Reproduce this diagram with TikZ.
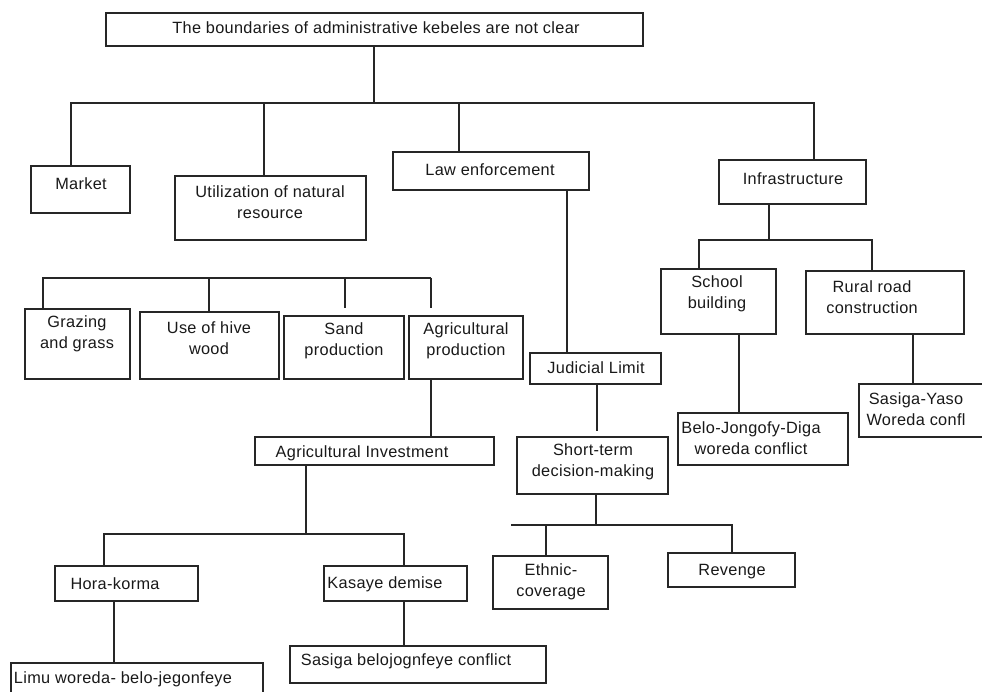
\documentclass[tikz,border=0pt]{standalone}
\usepackage{fontspec}
\setmainfont{Liberation Sans}[LetterSpace=2.0]
\tikzset{
  bx/.style={draw=black!85, line width=1.2pt, inner sep=0pt, fill=white},
  tx/.style={inner sep=0pt, align=center, text=black!90, font=\fontsize{16.3}{20.5}\selectfont},
  ln/.style={draw=black!85, line width=1.2pt}
}
\newcommand\mybox[5]{\node[bx,minimum width={(#4-#2)*1pt},minimum height={(#5-#3)*1pt}] (#1) at ({(#2+#4)/2},{(#3+#5)/2}) {};}
\begin{document}
\begin{tikzpicture}[x=1pt,y=-1pt]
\useasboundingbox (0,0) rectangle (982,692);
\fill[white] (0,0) rectangle (982,692);
\clip (0,0) rectangle (982,692);
% boxes
\mybox{top}{106}{13}{643}{46}
\mybox{market}{31}{166}{130}{213}
\mybox{util}{175}{176}{366}{240}
\mybox{law}{393}{152}{589}{190}
\mybox{infra}{719}{160}{866}{204}
\mybox{school}{661}{269}{776}{334}
\mybox{rural}{806}{271}{964}{334}
\mybox{belo}{678}{413}{848}{465}
\mybox{yaso}{859}{384}{995}{437}
\mybox{jud}{530}{353}{661}{384}
\mybox{short}{517}{437}{668}{494}
\mybox{ethnic}{493}{556}{608}{609}
\mybox{revenge}{668}{553}{795}{587}
\mybox{grazing}{25}{309}{130}{379}
\mybox{hive}{140}{312}{279}{379}
\mybox{sand}{284}{316}{404}{379}
\mybox{agri}{409}{316}{523}{379}
\mybox{inv}{255}{437}{494}{465}
\mybox{hora}{55}{566}{198}{601}
\mybox{kasaye}{324}{566}{467}{601}
\mybox{limu}{11}{663}{263}{712}
\mybox{sasbel}{290}{646}{546}{683}
% texts
\node[tx] (top-t) at (376,28) {The boundaries of administrative kebeles are not clear};
\node[tx] (market-t) at (81,184) {Market};
\node[tx] (util-t) at (270,202) {Utilization of natural\\resource};
\node[tx] (law-t) at (490,170) {Law enforcement};
\node[tx] (infra-t) at (793,179) {Infrastructure};
\node[tx] (school-t) at (717,294) {School\\building};
\node[tx] (rural-t) at (872,297) {Rural road\\construction};
\node[tx] (belo-t) at (751,438) {Belo-Jongofy-Diga\\woreda conflict};
\node[tx] (yaso-t) at (916,409) {Sasiga-Yaso\\Woreda confl};
\node[tx] (jud-t) at (596,368) {Judicial Limit};
\node[tx] (short-t) at (593,462) {Short-term\\decision-making};
\node[tx] (ethnic-t) at (551,582) {Ethnic-\\coverage};
\node[tx] (revenge-t) at (732,572) {Revenge};
\node[tx] (grazing-t) at (77,334) {Grazing\\and grass};
\node[tx] (hive-t) at (209,338) {Use of hive\\wood};
\node[tx] (sand-t) at (344,341) {Sand\\production};
\node[tx] (agri-t) at (466,341) {Agricultural\\production};
\node[tx] (inv-t) at (362,453) {Agricultural Investment};
\node[tx] (hora-t) at (115,584) {Hora-korma};
\node[tx] (kasaye-t) at (385,584) {Kasaye demise};
\node[tx] (limu-t) at (123,679) {Limu woreda- belo-jegonfeye};
\node[tx] (sasbel-t) at (406,661) {Sasiga belojognfeye conflict};
% junction coordinates
\coordinate (j1) at (374,103);
\coordinate (j2) at (769,240);
\coordinate (j3) at (596,525);
\coordinate (j4) at (306,534);
% connectors: top level
\draw[ln] (374,0 |- top.south) -- (j1);
\draw[ln] (71,0 |- market.north) -- (71,0 |- j1) -- (814,0 |- j1) -- (814,0 |- infra.north);
\draw[ln] (264,0 |- j1) -- (264,0 |- util.north);
\draw[ln] (459,0 |- j1) -- (459,0 |- law.north);
% law enforcement branch
\draw[ln] (567,0 |- law.south) -- (567,0 |- jud.north);
\draw[ln, shorten >=5pt] (597,0 |- jud.south) -- (597,0 |- short.north);
\draw[ln] (596,0 |- short.south) -- (j3);
\draw[ln] (511,0 |- j3) -- (732,0 |- j3) -- (732,0 |- revenge.north);
\draw[ln] (546,0 |- j3) -- (546,0 |- ethnic.north);
% infrastructure branch
\draw[ln] (769,0 |- infra.south) -- (j2);
\draw[ln] (699,0 |- school.north) -- (699,0 |- j2) -- (872,0 |- j2) -- (872,0 |- rural.north);
\draw[ln] (739,0 |- school.south) -- (739,0 |- belo.north);
\draw[ln] (913,0 |- rural.south) -- (913,0 |- yaso.north);
% natural resource sub-branches
\coordinate (j5) at (43,278);
\draw[ln] (43,0 |- grazing.north) -- (j5) -- (431,278);
\draw[ln] (209,278) -- (209,0 |- hive.north);
\draw[ln, shorten >=7pt] (345,278) -- (345,0 |- sand.north);
\draw[ln, shorten >=7pt] (431,278) -- (431,0 |- agri.north);
% agricultural investment branch
\draw[ln] (431,0 |- agri.south) -- (431,0 |- inv.north);
\draw[ln] (306,0 |- inv.south) -- (j4);
\draw[ln] (104,0 |- hora.north) -- (104,0 |- j4) -- (404,0 |- j4) -- (404,0 |- kasaye.north);
\draw[ln] (114,0 |- hora.south) -- (114,0 |- limu.north);
\draw[ln] (404,0 |- kasaye.south) -- (404,0 |- sasbel.north);
\end{tikzpicture}
\end{document}
